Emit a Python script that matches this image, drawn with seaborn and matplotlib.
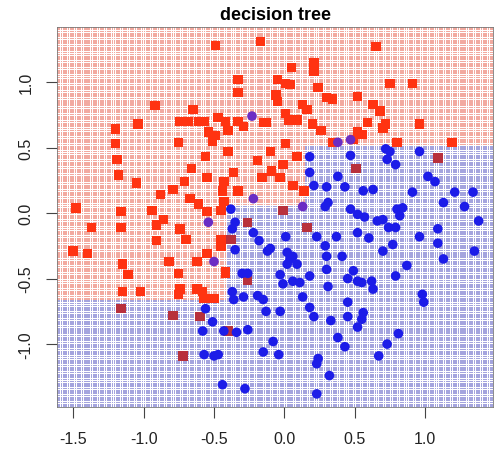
import numpy as np
import pandas as pd
import seaborn as sns
import matplotlib.pyplot as plt

# --- data ---
red_x = [-0.49, -0.17, 0.65, 0.05, 0.21, 0.21, -0.33, -0.05, 0.01, 0.04, 0.75, 0.91, 0.24,
         -0.33, -0.06, -0.05, 0.30, 0.34, 0.52, 0.63, 0.68, -0.92, -0.65, 0.13, 0.16, 0.01,
         0.03, 0.09, -1.04, -1.20, -0.74, -0.68, -0.61, -0.57, -0.47, -0.42, -0.33, -0.29,
         -0.13, 0.20, 0.26, 0.59, 0.72, 0.96, -0.54, -0.49, -0.40, -0.51, -1.20, -0.75, 0.01,
         0.52, 0.55, 0.80, 1.19, 0.49, -0.15, 0.70, 0.34, -0.10, -0.19, -0.01, 0.09, -0.16,
         -0.09, -0.03, 0.06, 0.14, -0.01, -0.40, -0.56, -0.36, -0.55, -0.43, -0.44, -0.33,
         -0.43, -0.45, -0.55, -0.45, -0.38, -0.45, -0.55, -0.42, -0.50, -0.57, -1.50, -1.40,
         -1.15, -1.11, -1.15, -1.02, -1.16, -0.82, -0.75, -0.62, -0.74, -0.75, -0.62, -0.58,
         -0.42, -0.79, -0.60, -0.72, -0.40, -0.26, -0.26, 0.51, 1.09, 0.16, -1.19, -1.18,
         -1.48, -1.37, -1.16, -1.16, -0.94, -0.91, -0.91, -0.66, -0.71, -0.79, -0.88, -0.67,
         -0.86, -0.74, -0.70, -0.61, -1.05]
red_y = [1.28, 1.31, 1.27, 1.11, 1.15, 1.08, 1.02, 1.02, 0.99, 0.98, 0.99, 0.99, 0.96,
         0.92, 0.90, 0.85, 0.88, 0.87, 0.89, 0.83, 0.78, 0.82, 0.79, 0.83, 0.79, 0.76,
         0.71, 0.71, 0.68, 0.64, 0.70, 0.70, 0.70, 0.70, 0.73, 0.70, 0.70, 0.66,
         0.69, 0.68, 0.63, 0.69, 0.68, 0.68, 0.62, 0.59, 0.63, 0.55, 0.53, 0.54, 0.53,
         0.62, 0.60, 0.54, 0.54, 0.56, 0.69, 0.65, 0.54, 0.47, 0.40, 0.37, 0.43, 0.27,
         0.32, 0.27, 0.21, 0.17, 0.02, 0.47, 0.43, 0.31, 0.27, 0.24, 0.17, 0.17,
         0.09, 0.02, 0.01, -0.20, -0.20, -0.25, -0.31, -0.45, -0.65, -0.65, -0.29, -0.31,
         -0.39, -0.47, -0.60, -0.60, -0.73, -0.37, -0.46, -0.37, -0.58, -0.62, -0.58, -0.60,
         -0.46, -0.78, -0.79, -1.09, -0.90, -0.51, -0.07, 0.34, 0.42, -0.11, 0.41, 0.29,
         0.04, -0.11, 0.01, -0.11, 0.02, -0.09, -0.21, 0.34, 0.24, 0.18, 0.14, 0.11,
         -0.05, -0.12, -0.20, 0.07, 0.23]

blue_x = [0.18, 0.18, 0.38, 0.47, 0.72, 0.75, 0.73, 0.79, 0.96, 1.02, 1.07, 0.21, 0.30,
          0.43, 0.56, 0.63, 0.91, 1.21, 1.34, 1.13, 1.28, 1.38, 0.13, 0.29, 0.31, 0.47,
          0.52, 0.57, 0.66, 0.70, 0.74, 0.79, 0.80, 0.84, 0.82, -0.22, -0.22, -0.18, -0.10,
          0.01, 0.02, 0.06, 0.23, 0.37, 0.41, 0.29, 0.52, 0.60, 0.70, 0.77, 0.96, 1.09,
          1.09, 1.13, 1.35, 0.87, -0.03, -0.01, 0.06, 0.11, 0.18, 0.30, 0.31, 0.45, 0.49,
          0.52, 0.55, 0.62, 0.63, 0.79, 0.98, 0.99, -0.19, -0.15, -0.13, -0.03, 0.13, 0.18,
          0.21, 0.33, 0.45, 0.45, 0.56, 0.55, 0.52, 0.81, 0.73, 0.67, 0.38, 0.43, -0.08,
          -0.15, -0.04, 0.24, 0.23, 0.32, 0.23, -0.50, -0.35, -0.30, -0.26, -0.37, -0.36,
          -0.29, -0.56, -0.51, -0.58, -0.43, -0.34, -0.26, -0.57, -0.50, -0.47, -0.44,
          -0.28, -0.12, 0.04, 0.09, 0.30, -0.38, -0.54, -0.35, -0.37, 0.38, 0.47, -0.23,
          0.02]
blue_y = [0.43, 0.31, 0.28, 0.44, 0.49, 0.47, 0.41, 0.37, 0.47, 0.28, 0.24, 0.21, 0.20,
          0.20, 0.17, 0.18, 0.16, 0.16, 0.16, 0.08, 0.05, -0.06, 0.05, 0.05, 0.08, 0.03,
          -0.01, -0.03, -0.06, -0.05, -0.11, -0.11, 0.03, 0.04, -0.02, 0.11, -0.15, -0.21,
          -0.27, -0.18, -0.30, -0.33, -0.18, -0.18, -0.33, -0.25, -0.15, -0.19, -0.29, -0.24,
          -0.18, -0.12, -0.23, -0.35, -0.29, -0.40, -0.47, -0.54, -0.52, -0.53, -0.48, -0.43,
          -0.56, -0.50, -0.44, -0.52, -0.53, -0.52, -0.58, -0.48, -0.62, -0.68, -0.63, -0.66,
          -0.75, -0.75, -0.64, -0.72, -0.79, -0.82, -0.68, -0.79, -0.76, -0.81, -0.87, -0.92,
          -1.00, -1.09, -0.95, -1.02, -0.98, -1.06, -1.08, -1.11, -1.15, -1.24, -1.38, -0.37,
          -0.28, -0.46, -0.46, -0.60, -0.66, -0.64, -0.73, -0.83, -0.90, -0.90, -0.91, -0.89,
          -1.08, -1.09, -1.08, -1.31, -1.34, -0.29, -0.35, -0.39, -0.33, 0.03, -0.07, -0.07,
          -0.12, 0.54, 0.56, 0.74, -0.39]

# tree splits
split_low_y = -0.66
split_x1 = -0.41
split_x2 = 0.15
split_mid_y = 0.05
split_high_y = 0.52

x_range = (-1.615, 1.482)
y_range = (-1.48, 1.42)


def tree_predict(x, y):
    x = np.asarray(x)
    y = np.asarray(y)
    blue = (y < split_low_y) | (
        (x >= split_x1) & (((x < split_x2) & (y < split_mid_y)) | ((x >= split_x2) & (y < split_high_y)))
    )
    return np.where(blue, "blue", "red")


# background grid of predictions
gx, gy = np.meshgrid(np.linspace(*x_range, 190), np.linspace(*y_range, 166))
grid = pd.DataFrame({"x": gx.ravel(), "y": gy.ravel()})
grid["region"] = tree_predict(grid["x"], grid["y"])

pts = pd.DataFrame({
    "x": red_x + blue_x,
    "y": red_y + blue_y,
    "cls": ["red"] * len(red_x) + ["blue"] * len(blue_x),
})
pts["pred"] = tree_predict(pts["x"], pts["y"])
pts["kind"] = pts["cls"] + np.where(pts["cls"] == pts["pred"], "", "_wrong")

plt.rcParams["font.family"] = ["Liberation Sans", "DejaVu Sans"]
fig = plt.figure(figsize=(4.95, 4.56), dpi=100)
ax = fig.add_axes([57 / 495, 48 / 456, 436 / 495, 380 / 456])

sns.scatterplot(data=grid, x="x", y="y", hue="region",
                palette={"red": "#f2aaa0", "blue": "#a4a4de"},
                marker="s", s=1.4, linewidth=0, legend=False, ax=ax, rasterized=True)

sns.scatterplot(data=pts[pts["cls"] == "red"], x="x", y="y", hue="kind",
                palette={"red": "#ff3311", "red_wrong": "#b8303c"},
                marker="s", s=46, linewidth=0, legend=False, ax=ax)
sns.scatterplot(data=pts[pts["cls"] == "blue"], x="x", y="y", hue="kind",
                palette={"blue": "#1c1ce8", "blue_wrong": "#6a2cc4"},
                marker="o", s=48, linewidth=0, legend=False, ax=ax)

ax.set_xlim(*x_range)
ax.set_ylim(*y_range)
ax.set_xticks([-1.5, -1.0, -0.5, 0.0, 0.5, 1.0])
ax.set_yticks([-1.0, -0.5, 0.0, 0.5, 1.0])
ax.set_xticklabels(["-1.5", "-1.0", "-0.5", "0.0", "0.5", "1.0"])
ax.set_yticklabels(["-1.0", "-0.5", "0.0", "0.5", "1.0"], rotation=90, va="center")
ax.tick_params(length=8, width=0.8, color="#444444", labelsize=11.5, labelcolor="#222222", pad=9)
ax.set_xlabel("")
ax.set_ylabel("")
for sp in ax.spines.values():
    sp.set_color("#777777")
    sp.set_linewidth(0.6)
ax.set_title("decision tree", fontsize=13, fontweight="bold", pad=6)

fig.savefig("out.png", dpi=100)
